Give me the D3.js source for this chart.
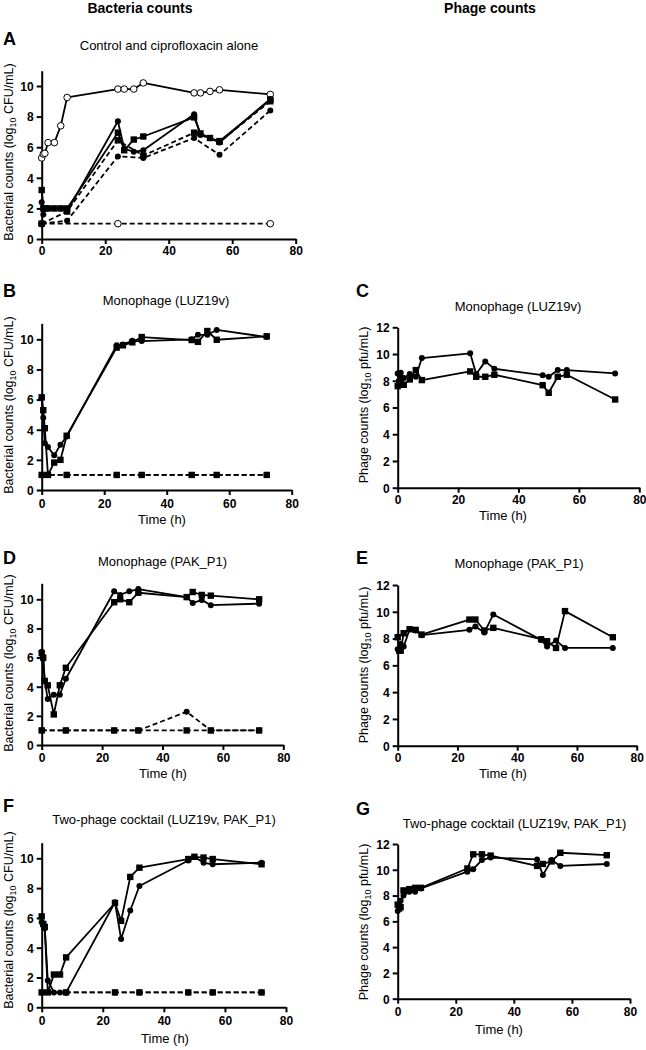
<!DOCTYPE html>
<html><head><meta charset="utf-8">
<script src="https://cdn.jsdelivr.net/npm/d3@7"></script>
<style>
body{margin:0;background:#fff}
svg{display:block}
text{font-family:"Liberation Sans",Arial,Helvetica,sans-serif;fill:#000}
</style>
</head><body>
<svg id="chart" width="646" height="1050"></svg>
<script>
// ---------- DATA ----------
const tFull = [0, 0.5, 1, 2, 4, 6, 8, 24, 26, 29, 32, 48, 50, 53, 56, 72];
const tRes  = [0, 8, 24, 32, 48, 56, 72];
const tDetect = [0, 24, 72];
const xTicks = [0, 20, 40, 60, 80];
const yTicksBact = [0, 2, 4, 6, 8, 10];
const yTicksPhage = [0, 2, 4, 6, 8, 10, 12];

// Panel A: control and ciprofloxacin alone (log10 CFU/mL)
const aControl    = [5.3, 5.55, 5.6, 6.3, 6.3, 7.4, 9.25, 9.8, 9.8, 9.8, 10.2, 9.55, 9.55, 9.65, 9.75, 9.45];
const aCipCircle  = [2.4, 1.6, 2.0, 2.0, 2.0, 2.0, 1.8, 7.7, 5.9, 5.7, 5.8, 8.15, 6.8, 6.6, 6.3, 9.15];
const aCipSquare  = [3.2, 2.0, 2.0, 2.0, 2.0, 2.0, 2.0, 6.95, 5.8, 6.5, 6.7, 7.95, 6.9, 6.6, 6.4, 9.1];
const aResCircle  = [1.0, 1.2, 5.4, 5.3, 6.6, 5.5, 8.4];
const aResSquare  = [1.0, 1.8, 6.45, 5.45, 6.95, 6.35, 9.0];
const aDetect     = [1.0, 1.0, 1.0];

// Panel B: LUZ19v bacteria
const bCircle = [6.1, 4.8, 3.1, 2.85, 2.3, 3.0, 3.55, 9.6, 9.66, 9.9, 9.88, 10.0, 10.3, 10.3, 10.62, 10.15];
const bSquare = [6.15, 5.3, 4.1, 1.0, 1.82, 2.0, 3.6, 9.45, 9.6, 9.8, 10.15, 9.95, 9.83, 10.55, 9.97, 10.2];
const bResCircle = [1, 1, 1, 1, 1, 1, 1];
const bResSquare = [1, 1, 1, 1, 1, 1, 1];

// Panel C: LUZ19v phage (log10 pfu/mL)
const cCircle = [8.55, 8.0, 8.6, 8.2, 8.5, 8.3, 9.7, 10.05, 8.5, 9.45, 8.9, 8.42, 8.3, 8.8, 8.8, 8.55];
const cSquare = [7.6, 7.9, 8.1, 7.7, 8.1, 8.8, 8.05, 8.7, 8.3, 8.3, 8.45, 7.67, 7.1, 8.3, 8.45, 6.6];

// Panel D: PAK_P1 bacteria
const dCircle = [6.4, 5.9, 4.4, 3.15, 3.45, 3.45, 4.55, 10.55, 10.3, 10.55, 10.7, 10.15, 9.75, 9.95, 9.6, 9.7];
const dSquare = [6.3, 6.0, 4.4, 4.1, 2.1, 4.1, 5.3, 9.8, 10.0, 9.8, 10.45, 10.15, 10.5, 10.3, 10.25, 10.0];
const dResCircle = [1, 1, 1, 1, 2.28, 1, 1];
const dResSquare = [1, 1, 1, 1, 1, 1, 1];

// Panel E: PAK_P1 phage
const eCircle = [7.2, 7.2, 7.6, 7.4, 8.7, 8.6, 8.25, 8.65, 8.9, 8.45, 9.8, 7.9, 7.4, 7.85, 7.3, 7.3];
const eSquare = [8.1, 7.1, 7.1, 8.4, 8.7, 8.65, 8.3, 9.42, 9.42, 8.6, 8.8, 7.95, 7.8, 7.3, 10.05, 8.1];

// Panel F: two-phage cocktail bacteria
const fCircle = [5.7, 5.5, 5.3, 1.8, 1.0, 1.0, 1.0, 7.05, 4.58, 6.5, 8.14, 9.85, 10.1, 9.7, 9.6, 9.7];
const fSquare = [6.1, 5.6, 5.4, 1.0, 2.2, 2.2, 3.35, 7.0, 5.8, 8.75, 9.37, 9.95, 10.1, 10.05, 9.95, 9.6];
const fResCircle = [1, 1, 1, 1, 1, 1, 1];
const fResSquare = [1, 1, 1, 1, 1, 1, 1];

// Panel G: two-phage cocktail phage
const gCircle = [6.8, 7.3, 7.6, 8.0, 8.3, 8.3, 8.55, 9.85, 10.05, 10.75, 10.95, 10.8, 9.6, 10.75, 10.3, 10.45];
const gSquare = [7.3, 7.0, 7.1, 8.4, 8.5, 8.6, 8.6, 10.1, 11.2, 11.2, 11.1, 10.3, 10.45, 10.65, 11.32, 11.13];

const titles = {
  A: "Control and ciprofloxacin alone",
  B: "Monophage (LUZ19v)", C: "Monophage (LUZ19v)",
  D: "Monophage (PAK_P1)", E: "Monophage (PAK_P1)",
  F: "Two-phage cocktail (LUZ19v, PAK_P1)", G: "Two-phage cocktail (LUZ19v, PAK_P1)"
};

// ---------- LAYOUT ----------
const zip = (ts, vs) => ts.map((t, i) => ({t, v: vs[i]}));
const panels = [
  {id:"A", kind:"bact", x0:41.7, x80:295.7, y0:239, yRef:86, yTop:70.7, letterY:45, titleX:169, titleY:50, xLabY:255, timeY:null, yLabX:13, yLabC:152,
   series:[
     {d:zip(tFull,aControl), m:"open", dash:false},
     {d:zip(tDetect,aDetect), m:"open", dash:true},
     {d:zip(tRes,aResCircle), m:"circle", dash:true},
     {d:zip(tRes,aResSquare), m:"square", dash:true},
     {d:zip(tFull,aCipCircle), m:"circle", dash:false},
     {d:zip(tFull,aCipSquare), m:"square", dash:false}]},
  {id:"B", kind:"bact", x0:41.7, x80:291.7, y0:490, yRef:339.3, yTop:323.3, letterY:297, titleX:166, titleY:305, xLabY:508, timeX:162, timeY:524, yLabX:13, yLabC:405,
   series:[
     {d:zip(tRes,bResCircle), m:"circle", dash:true},
     {d:zip(tRes,bResSquare), m:"square", dash:true},
     {d:zip(tFull,bCircle), m:"circle", dash:false},
     {d:zip(tFull,bSquare), m:"square", dash:false}]},
  {id:"C", kind:"phage", x0:397.7, x80:639.3, y0:487.7, yRef:327.3, yTop:327.3, letterY:297, titleX:518, titleY:311, xLabY:504, timeX:503, timeY:520, yLabX:368, yLabC:405,
   series:[
     {d:zip(tFull,cCircle), m:"circle", dash:false},
     {d:zip(tFull,cSquare), m:"square", dash:false}]},
  {id:"D", kind:"bact", x0:41.7, x80:283.3, y0:745, yRef:599.3, yTop:583.3, letterY:564, titleX:162.5, titleY:566, xLabY:762, timeX:163, timeY:778, yLabX:13, yLabC:663,
   series:[
     {d:zip(tRes,dResCircle), m:"circle", dash:true},
     {d:zip(tRes,dResSquare), m:"square", dash:true},
     {d:zip(tFull,dCircle), m:"circle", dash:false},
     {d:zip(tFull,dSquare), m:"square", dash:false}]},
  {id:"E", kind:"phage", x0:397.7, x80:636.7, y0:745.7, yRef:585, yTop:585, letterY:564, titleX:519, titleY:568, xLabY:762, timeX:503, timeY:778, yLabX:368, yLabC:665,
   series:[
     {d:zip(tFull,eCircle), m:"circle", dash:false},
     {d:zip(tFull,eSquare), m:"square", dash:false}]},
  {id:"F", kind:"bact", x0:41.7, x80:286, y0:1007.3, yRef:858.3, yTop:842.7, letterY:812, titleX:164, titleY:824, xLabY:1025, timeX:165, timeY:1043, yLabX:13, yLabC:920,
   series:[
     {d:zip(tRes,fResCircle), m:"circle", dash:true},
     {d:zip(tRes,fResSquare), m:"square", dash:true},
     {d:zip(tFull,fCircle), m:"circle", dash:false},
     {d:zip(tFull,fSquare), m:"square", dash:false}]},
  {id:"G", kind:"phage", x0:397.7, x80:630, y0:998.7, yRef:844, yTop:844, letterY:815, titleX:514.5, titleY:828, xLabY:1016, timeX:499, timeY:1034, yLabX:368, yLabC:922,
   series:[
     {d:zip(tFull,gCircle), m:"circle", dash:false},
     {d:zip(tFull,gSquare), m:"square", dash:false}]}
];

const svg = d3.select("#chart");

// column headers
svg.append("text").attr("x", 140).attr("y", 13).attr("text-anchor", "middle")
  .attr("font-size", 14).attr("font-weight", "bold").text("Bacteria counts");
svg.append("text").attr("x", 490).attr("y", 13).attr("text-anchor", "middle")
  .attr("font-size", 14).attr("font-weight", "bold").text("Phage counts");

panels.forEach(p => {
  const g = svg.append("g");
  const refVal = p.kind === "bact" ? 10 : 12;
  const yTicks = p.kind === "bact" ? yTicksBact : yTicksPhage;
  const yTmp = d3.scaleLinear().domain([0, refVal]).range([p.y0, p.yRef]);
  const yMax = yTmp.invert(p.yTop);
  const y = d3.scaleLinear().domain([0, yMax]).range([p.y0, p.yTop]);
  const x = d3.scaleLinear().domain([0, 80]).range([p.x0, p.x80]);

  // panel letter
  const letterX = p.kind === "bact" ? 3 : 356;
  g.append("text").attr("x", letterX).attr("y", p.letterY).attr("font-size", 18)
    .attr("font-weight", "bold").text(p.id);
  // title
  g.append("text").attr("x", p.titleX).attr("y", p.titleY).attr("text-anchor", "middle")
    .attr("font-size", 13).text(titles[p.id]);

  // axes
  const xAxis = d3.axisBottom(x).tickValues(xTicks).tickSize(5).tickSizeOuter(0).tickPadding(3);
  const gx = g.append("g").attr("transform", `translate(0,${p.y0})`).call(xAxis);
  const yAxis = d3.axisLeft(y).tickValues(yTicks).tickSize(5).tickSizeOuter(0).tickPadding(3);
  const gy = g.append("g").attr("transform", `translate(${p.x0},0)`).call(yAxis);
  [gx, gy].forEach(a => {
    a.select(".domain").attr("stroke", "#000").attr("stroke-width", 2);
    a.selectAll(".tick line").attr("stroke", "#000").attr("stroke-width", 2);
    a.selectAll(".tick text").attr("font-size", 12).attr("font-weight", "bold")
      .attr("font-family", '"Liberation Sans",Arial,sans-serif').attr("fill", "#000");
  });
  gx.selectAll(".tick text").attr("dy", null).attr("y", p.xLabY - p.y0);
  gy.selectAll(".tick text").attr("dy", "0.36em");

  // time label
  if (p.timeY) {
    g.append("text").attr("x", p.timeX).attr("y", p.timeY).attr("text-anchor", "middle")
      .attr("font-size", 13).text("Time (h)");
  }
  // y label
  const yl = g.append("text").attr("transform", `translate(${p.yLabX},${p.yLabC}) rotate(-90)`)
    .attr("text-anchor", "middle").attr("font-size", 12.5);
  const pre = p.kind === "bact" ? "Bacterial counts (log" : "Phage counts (log";
  const post = p.kind === "bact" ? " CFU/mL)" : " pfu/mL)";
  yl.append("tspan").text(pre);
  yl.append("tspan").attr("font-size", 9).attr("dy", 3).text("10");
  yl.append("tspan").attr("dy", -3).text(post);

  // series lines
  const line = d3.line().x(d => x(d.t)).y(d => y(d.v));
  p.series.forEach(s => {
    g.append("path").datum(s.d).attr("d", line).attr("fill", "none")
      .attr("stroke", "#000").attr("stroke-width", 1.8)
      .attr("stroke-dasharray", s.dash ? "5,3" : null)
      .attr("stroke-linejoin", "round");
  });
  // markers
  p.series.forEach(s => {
    const mg = g.append("g");
    if (s.m === "square") {
      mg.selectAll("rect").data(s.d).join("rect")
        .attr("x", d => x(d.t) - 3.2).attr("y", d => y(d.v) - 3.2)
        .attr("width", 6.4).attr("height", 6.4).attr("fill", "#000");
    } else if (s.m === "circle") {
      mg.selectAll("circle").data(s.d).join("circle")
        .attr("cx", d => x(d.t)).attr("cy", d => y(d.v)).attr("r", 3).attr("fill", "#000");
    } else {
      mg.selectAll("circle").data(s.d).join("circle")
        .attr("cx", d => x(d.t)).attr("cy", d => y(d.v)).attr("r", 3.3)
        .attr("fill", "#fff").attr("stroke", "#000").attr("stroke-width", 1);
    }
  });
});
</script>
</body></html>
